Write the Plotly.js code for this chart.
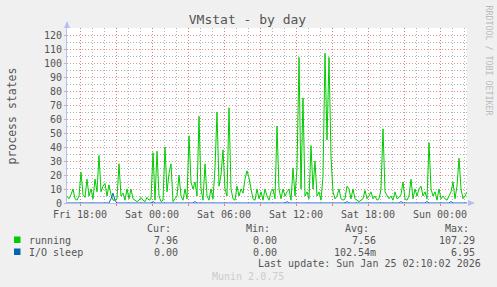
<!DOCTYPE html>
<html>
<head>
<meta charset="utf-8">
<script src="https://cdn.plot.ly/plotly-3.0.1.min.js"></script>
<style>
  html, body { margin: 0; padding: 0; background: #f0f0f0; }
  #chart { width: 497px; height: 287px; }
</style>
</head>
<body>
<div id="chart"></div>
<script>
// ---- data (10-minute samples starting Fri 2026-01-23 16:55) ----
const startTime = Date.UTC(2026, 0, 23, 16, 55);
const stepMinutes = 10;

const running = [
  5, 3, 6, 10, 3, 2, 5, 22, 6, 4,
  17, 5, 10, 3, 17, 8, 34, 8, 12, 14,
  5, 13, 6, 2, 2, 3, 28, 5, 7, 2,
  10, 3, 10, 3, 2, 1, 2, 4, 2, 1,
  4, 2, 3, 36, 2, 37, 5, 1, 2, 40,
  8, 21, 28, 1, 3, 5, 20, 5, 2, 10,
  3, 48, 15, 10, 15, 5, 62, 10, 2, 28,
  5, 2, 10, 3, 25, 65, 12, 20, 38, 10,
  5, 68, 10, 3, 2, 12, 5, 10, 7, 17,
  23, 18, 10, 3, 2, 10, 3, 8, 2, 10,
  5, 2, 8, 10, 3, 55, 10, 3, 10, 5,
  8, 10, 2, 25, 5, 25, 104, 10, 75, 5,
  8, 3, 41, 10, 30, 5, 8, 2, 19, 107,
  45, 104, 33, 8, 3, 5, 10, 3, 2, 3,
  12, 10, 3, 10, 3, 2, 1, 2, 3, 9,
  3, 5, 8, 3, 5, 2, 3, 10, 53, 8,
  5, 3, 5, 2, 8, 3, 4, 6, 15, 3,
  2, 5, 17, 3, 10, 5, 10, 12, 5, 8,
  3, 43, 10, 5, 8, 2, 10, 3, 5, 3,
  2, 5, 8, 15, 3, 12, 32, 10, 3, 5,
  8
];

const ioSleep = [
  0, 0, 0, 0, 0, 0, 0, 0, 0, 0,
  0, 0, 0, 0, 0, 0, 0, 0, 0, 0,
  0, 0, 3, 7, 2, 0, 0, 0, 0, 0,
  0, 0, 0, 0, 0, 0, 0, 0, 0, 0,
  0, 0, 0, 1, 0, 0, 0, 0, 0, 0,
  0, 0, 0, 0, 0, 0, 0, 0, 0, 0,
  0, 0, 0, 0, 1, 0, 0, 0, 0, 0,
  0, 0, 0, 0, 0, 0, 0, 0, 0, 0,
  0, 0, 0, 0, 0, 0, 0, 0, 0, 0,
  0, 0, 0, 0, 0, 0, 0, 0, 0, 0,
  0, 0, 0, 0, 0, 0, 0, 0, 0, 0,
  1, 0, 0, 0, 0, 0, 0, 0, 0, 0,
  0, 0, 0, 0, 0, 0, 0, 0, 0, 0,
  0, 0, 0, 0, 0, 0, 0, 0, 0, 0,
  1, 0, 0, 0, 0, 0, 0, 0, 0, 0,
  0, 0, 0, 0, 0, 0, 0, 0, 0, 0,
  0, 0, 0, 0, 0, 0, 0, 1, 0, 0,
  0, 0, 0, 0, 0, 0, 0, 0, 0, 0,
  1, 0, 0, 0, 0, 0, 0, 0, 0, 0,
  0, 0, 1, 0, 0, 0, 0, 0, 0, 0,
  0
];

const tickVals = [
  '2026-01-23 18:00', '2026-01-23 21:00', '2026-01-24 00:00', '2026-01-24 03:00',
  '2026-01-24 06:00', '2026-01-24 09:00', '2026-01-24 12:00', '2026-01-24 15:00',
  '2026-01-24 18:00', '2026-01-24 21:00', '2026-01-25 00:00'
];
const tickLabels = [
  'Fri 18:00', '', 'Sat 00:00', '', 'Sat 06:00', '', 'Sat 12:00', '', 'Sat 18:00', '', 'Sun 00:00'
];

const seriesNames = ['running', 'I/O sleep'];
const seriesColors = ['#00cc00', '#0066b3'];
const statCur = ['7.96', '0.00'];
const statMin = ['0.00', '0.00'];
const statAvg = ['7.56', '102.54m'];
const statMax = ['107.29', '6.95'];

// ---- build ----
function ts(i) {
  return new Date(startTime + i * stepMinutes * 60000).toISOString().slice(0, 16).replace('T', ' ');
}
const times = running.map((_, i) => ts(i));

const FONT = 'DejaVu Sans Mono, monospace';
const TXT = '#555555';
const majorGrid = 'rgba(225,110,110,0.75)';
const minorGrid = 'rgba(170,170,170,0.9)';
const axisCol = '#b8bff0';
const dots = '1px,2px';

const traces = [
  { x: times, y: running, type: 'scatter', mode: 'lines', name: seriesNames[0],
    line: { color: seriesColors[0], width: 1 }, hoverinfo: 'skip' },
  { x: times, y: ioSleep, type: 'scatter', mode: 'lines', name: seriesNames[1],
    line: { color: seriesColors[1], width: 1 }, hoverinfo: 'skip' }
];

const W = 400, H = 175, L = 67, T = 28;
const px = v => (v - L) / W;
const py = v => (T + H - v) / H;

const ann = [];
function A(text, x, y, xa, opts) {
  ann.push(Object.assign({ text: text, xref: 'paper', yref: 'paper', x: px(x), y: py(y),
    xanchor: xa, yanchor: 'middle', showarrow: false,
    font: { family: FONT, size: 10, color: TXT } }, opts || {}));
}
A('process states', 11, 115.5, 'center', { textangle: -90, font: { family: FONT, size: 11.5, color: TXT } });
A('Cur:', 173, 228.5, 'right');
A('Min:', 272, 228.5, 'right');
A('Avg:', 371, 228.5, 'right');
A('Max:', 470.5, 228.5, 'right');
const rowY = [240, 252];
for (let s = 0; s < 2; s++) {
  A(seriesNames[s], 26.5, rowY[s], 'left');
  A(statCur[s], 179.5, rowY[s], 'right');
  A(statMin[s], 278.5, rowY[s], 'right');
  A(statAvg[s], 377.5, rowY[s], 'right');
  A(statMax[s], 477, rowY[s], 'right');
}
A('Last update: Sun Jan 25 02:10:02 2026', 483, 263.5, 'right');
A('Munin 2.0.75', 248, 276, 'center', { font: { family: FONT, size: 10, color: '#cccccc' } });
A('RRDTOOL / TOBI OETIKER', 488.5, 60, 'center', { textangle: 90, font: { family: FONT, size: 8.3, color: '#bbbbbb' } });

const shapes = [];
for (let s = 0; s < 2; s++) {
  shapes.push({ type: 'rect', xref: 'paper', yref: 'paper',
    x0: px(14), x1: px(20.5), y0: py(rowY[s] + 3), y1: py(rowY[s] - 3.5),
    fillcolor: seriesColors[s], line: { width: 0 } });
}
// axis arrows
shapes.push({ type: 'path', xref: 'paper', yref: 'paper',
  path: `M ${px(64)} ${py(28)} L ${px(70)} ${py(28)} L ${px(67)} ${py(21)} Z`,
  fillcolor: axisCol, line: { width: 0 } });
shapes.push({ type: 'path', xref: 'paper', yref: 'paper',
  path: `M ${px(468)} ${py(200)} L ${px(468)} ${py(206)} L ${px(475)} ${py(203)} Z`,
  fillcolor: axisCol, line: { width: 0 } });

const layout = {
  width: 497, height: 287,
  margin: { l: L, r: 497 - L - W, t: T, b: 287 - T - H, pad: 0 },
  paper_bgcolor: '#f0f0f0', plot_bgcolor: '#ffffff',
  showlegend: false,
  title: { text: 'VMstat - by day', x: 247.5 / 497, xanchor: 'center', xref: 'container',
    y: 1 - 19 / 287, yref: 'container', yanchor: 'middle',
    font: { family: FONT, size: 13, color: TXT } },
  xaxis: {
    type: 'date',
    range: ['2026-01-23 16:55', '2026-01-25 02:15'],
    tickmode: 'array', tickvals: tickVals, ticktext: tickLabels,
    showgrid: true, gridcolor: majorGrid, griddash: dots, gridwidth: 1,
    minor: { tickmode: 'linear', tick0: '2026-01-23 17:00', dtick: 3600000,
      showgrid: true, gridcolor: minorGrid, griddash: dots, gridwidth: 1 },
    showline: true, linecolor: axisCol, linewidth: 1,
    ticks: 'outside', ticklen: 2, tickcolor: 'rgba(225,110,110,0.9)',
    tickfont: { family: FONT, size: 10, color: TXT },
    zeroline: false, fixedrange: true
  },
  yaxis: {
    range: [0, 125],
    tickmode: 'linear', tick0: 0, dtick: 10,
    showgrid: true, gridcolor: majorGrid, griddash: dots, gridwidth: 1,
    minor: { tickmode: 'linear', tick0: 0, dtick: 5,
      showgrid: true, gridcolor: minorGrid, griddash: dots, gridwidth: 1 },
    showline: true, linecolor: axisCol, linewidth: 1,
    ticks: 'outside', ticklen: 2, tickcolor: '#bbbbbb',
    tickfont: { family: FONT, size: 10, color: TXT },
    zeroline: false, fixedrange: true
  },
  annotations: ann,
  shapes: shapes
};

Plotly.newPlot('chart', traces, layout, { displayModeBar: false, staticPlot: true });
</script>
</body>
</html>
